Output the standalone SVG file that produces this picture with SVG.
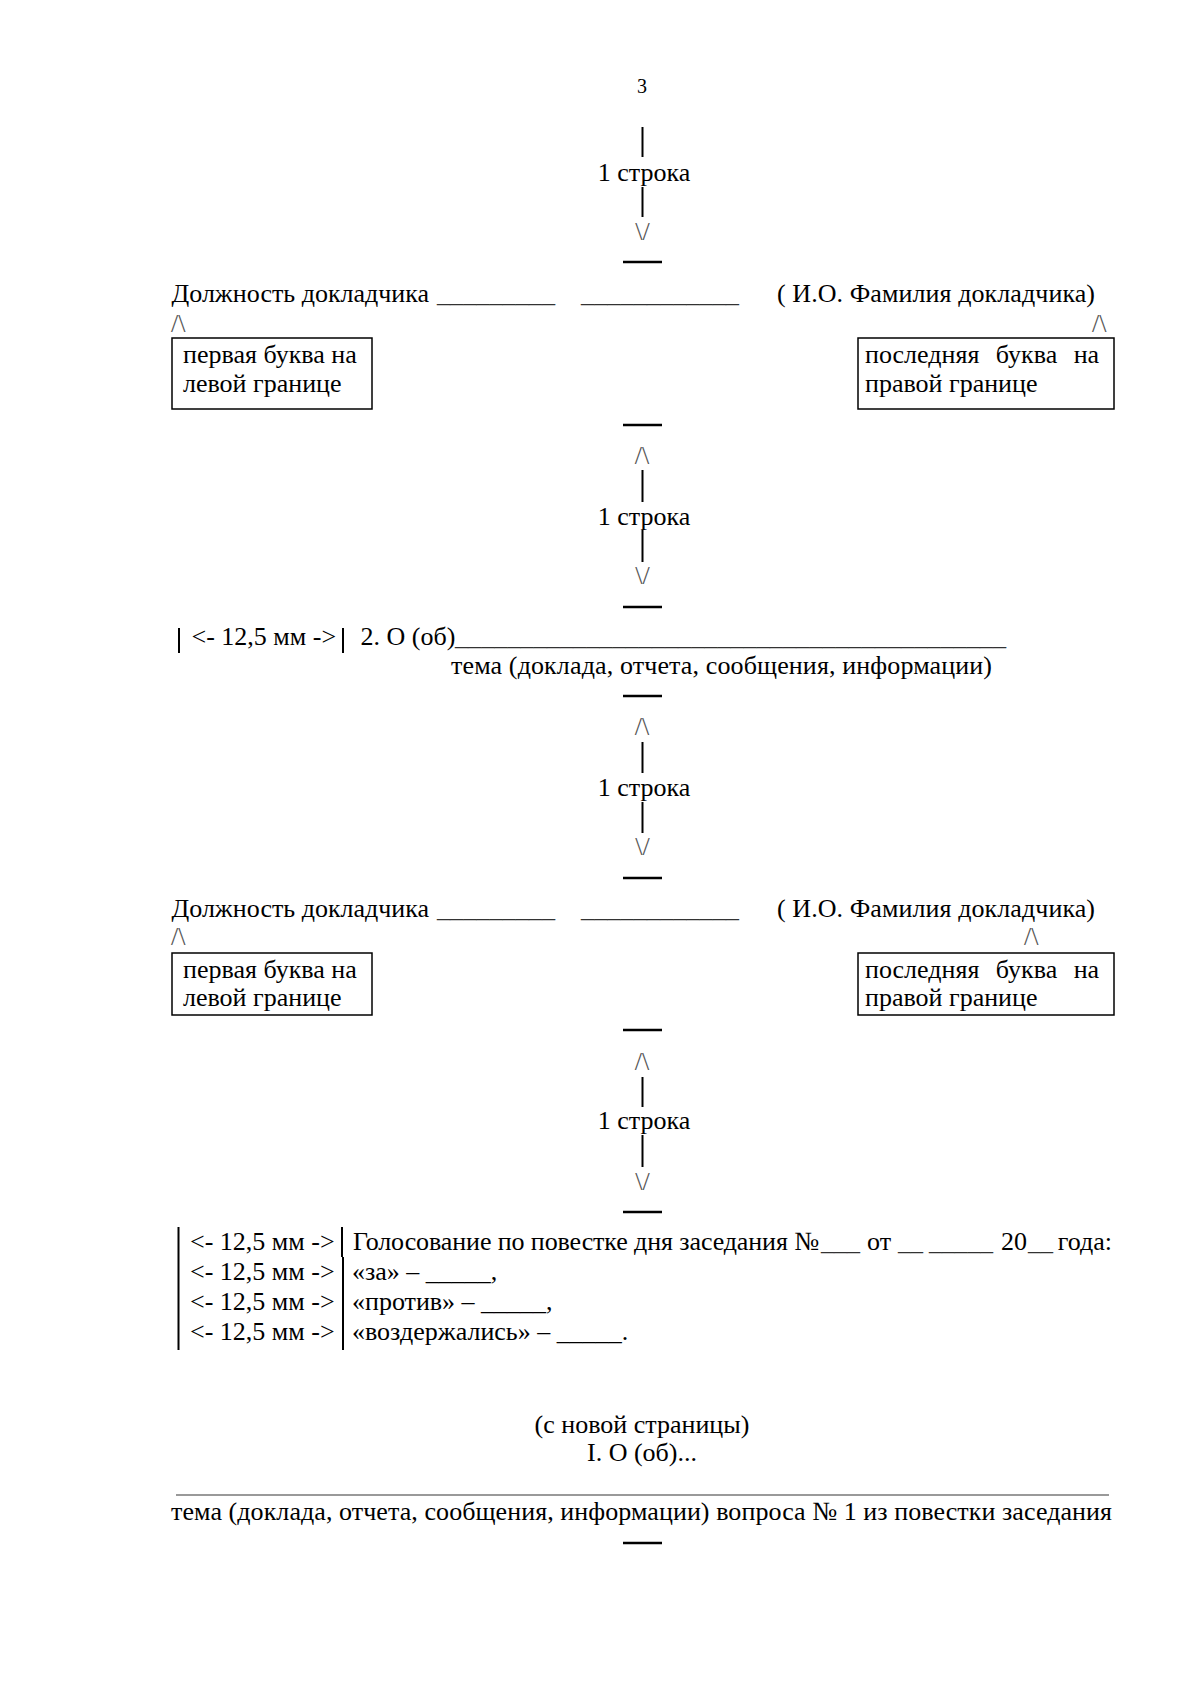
<svg xmlns="http://www.w3.org/2000/svg" width="1200" height="1696" viewBox="0 0 1200 1696">
<style>
.t{font-family:"Liberation Serif","Times New Roman",serif;font-size:26px;fill:#000}
.c{text-anchor:middle}
.pn{font-size:20px}
.ar{font-family:"Liberation Serif","Times New Roman",serif;font-size:26px;fill:#555}
.us{fill:#333}
.bar{stroke:#000;stroke-width:2;fill:none}
.dash{stroke:#000;stroke-width:2.5;fill:none}
.box{fill:#fff;stroke:#000;stroke-width:1.5}
.rule{stroke:#777;stroke-width:1.5}
</style>
<rect width="1200" height="1696" fill="#fff"/>

<g id="page-number"><text class="t c pn" x="642" y="93">3</text></g>

<g id="connectors">
  <line class="bar" x1="642.5" y1="127" x2="642.5" y2="157"/>
  <line class="bar" x1="642.5" y1="187" x2="642.5" y2="217"/>
  <text class="ar c" x="642.5" y="240">\/</text>
  <line class="dash" x1="623" y1="262" x2="662" y2="262"/>
  <text class="ar" x="171" y="332">/\</text>
  <text class="ar" x="1092" y="332">/\</text>
  <line class="dash" x1="623" y1="425" x2="662" y2="425"/>
  <text class="ar c" x="642" y="464">/\</text>
  <line class="bar" x1="642.5" y1="470" x2="642.5" y2="502"/>
  <line class="bar" x1="642.5" y1="530" x2="642.5" y2="562"/>
  <text class="ar c" x="642.5" y="584">\/</text>
  <line class="dash" x1="623" y1="607" x2="662" y2="607"/>
  <line class="bar" x1="179" y1="628" x2="179" y2="653"/>
  <line class="bar" x1="343" y1="628" x2="343" y2="653"/>
  <line class="dash" x1="623" y1="696" x2="662" y2="696"/>
  <text class="ar c" x="642" y="735">/\</text>
  <line class="bar" x1="642.5" y1="742" x2="642.5" y2="773"/>
  <line class="bar" x1="642.5" y1="802" x2="642.5" y2="833"/>
  <text class="ar c" x="642.5" y="855">\/</text>
  <line class="dash" x1="623" y1="878" x2="662" y2="878"/>
  <text class="ar" x="171" y="945">/\</text>
  <text class="ar" x="1024" y="945">/\</text>
  <line class="dash" x1="623" y1="1030" x2="662" y2="1030"/>
  <text class="ar c" x="642" y="1070">/\</text>
  <line class="bar" x1="642.5" y1="1077" x2="642.5" y2="1107"/>
  <line class="bar" x1="642.5" y1="1135" x2="642.5" y2="1167"/>
  <text class="ar c" x="642.5" y="1190">\/</text>
  <line class="dash" x1="623" y1="1212" x2="662" y2="1212"/>
  <line class="bar" x1="178.5" y1="1227" x2="178.5" y2="1350"/>
  <line class="bar" x1="342" y1="1227" x2="342" y2="1257"/>
  <line class="bar" x1="343" y1="1257" x2="343" y2="1350"/>
  <line class="rule" x1="176" y1="1495" x2="1109" y2="1495"/>
  <line class="dash" x1="623" y1="1543" x2="662" y2="1543"/>
</g>

<g id="spacer-label-1"><text class="t c" x="644" y="181">1 строка</text></g>

<g id="signature-row-1">
  <text class="t" x="171.5" y="302">Должность докладчика</text>
  <text class="t us" x="437" y="302" textLength="118" lengthAdjust="spacingAndGlyphs">_________</text>
  <text class="t us" x="581" y="302" textLength="158" lengthAdjust="spacingAndGlyphs">____________</text>
  <text class="t" x="777" y="302" textLength="318">( И.О. Фамилия докладчика)</text>
</g>

<g id="left-box-1">
  <rect class="box" x="172" y="338" width="200" height="71"/>
  <text class="t" x="183" y="363">первая буква на</text>
  <text class="t" x="183" y="392">левой границе</text>
</g>

<g id="right-box-1">
  <rect class="box" x="858" y="338" width="256" height="71"/>
  <text class="t" x="865" y="363" word-spacing="10">последняя буква на</text>
  <text class="t" x="865" y="392">правой границе</text>
</g>

<g id="spacer-label-2"><text class="t c" x="644" y="525">1 строка</text></g>

<g id="item-2">
  <text class="t" x="191.5" y="645">&lt;- 12,5 мм -&gt;</text>
  <text class="t" x="360.5" y="645">2. О (об)</text>
  <text class="t us" x="455" y="645" textLength="551" lengthAdjust="spacingAndGlyphs">__________________________________________</text>
  <text class="t" x="451" y="674" textLength="541">тема (доклада, отчета, сообщения, информации)</text>
</g>

<g id="spacer-label-3"><text class="t c" x="644" y="796">1 строка</text></g>

<g id="signature-row-2">
  <text class="t" x="171.5" y="917">Должность докладчика</text>
  <text class="t us" x="437" y="917" textLength="118" lengthAdjust="spacingAndGlyphs">_________</text>
  <text class="t us" x="581" y="917" textLength="158" lengthAdjust="spacingAndGlyphs">____________</text>
  <text class="t" x="777" y="917" textLength="318">( И.О. Фамилия докладчика)</text>
</g>

<g id="left-box-2">
  <rect class="box" x="172" y="953" width="200" height="62"/>
  <text class="t" x="183" y="978">первая буква на</text>
  <text class="t" x="183" y="1006">левой границе</text>
</g>

<g id="right-box-2">
  <rect class="box" x="858" y="953" width="256" height="62"/>
  <text class="t" x="865" y="978" word-spacing="10">последняя буква на</text>
  <text class="t" x="865" y="1006">правой границе</text>
</g>

<g id="spacer-label-4"><text class="t c" x="644" y="1129">1 строка</text></g>

<g id="voting">
  <text class="t" x="190" y="1250">&lt;- 12,5 мм -&gt;</text>
  <text class="t" x="190" y="1280">&lt;- 12,5 мм -&gt;</text>
  <text class="t" x="190" y="1310">&lt;- 12,5 мм -&gt;</text>
  <text class="t" x="190" y="1340">&lt;- 12,5 мм -&gt;</text>
  <text class="t" x="353" y="1250" textLength="466">Голосование по повестке дня заседания №</text>
  <text class="t us" x="821" y="1250" textLength="39" lengthAdjust="spacingAndGlyphs">___</text>
  <text class="t" x="867" y="1250">от</text>
  <text class="t us" x="898" y="1250" textLength="25" lengthAdjust="spacingAndGlyphs">__</text>
  <text class="t us" x="929" y="1250" textLength="64" lengthAdjust="spacingAndGlyphs">_____</text>
  <text class="t" x="1001" y="1250">20</text>
  <text class="t us" x="1028" y="1250" textLength="25" lengthAdjust="spacingAndGlyphs">__</text>
  <text class="t" x="1112" y="1250" text-anchor="end">года:</text>
  <text class="t" x="352" y="1280">«за» – _____,</text>
  <text class="t" x="352" y="1310">«против» – _____,</text>
  <text class="t" x="352" y="1340">«воздержались» – _____.</text>
</g>

<g id="next-page">
  <text class="t c" x="642" y="1433">(с новой страницы)</text>
  <text class="t c" x="642" y="1461">I. О (об)...</text>
  <text class="t" x="171" y="1520" textLength="941">тема (доклада, отчета, сообщения, информации) вопроса № 1 из повестки заседания</text>
</g>
</svg>
